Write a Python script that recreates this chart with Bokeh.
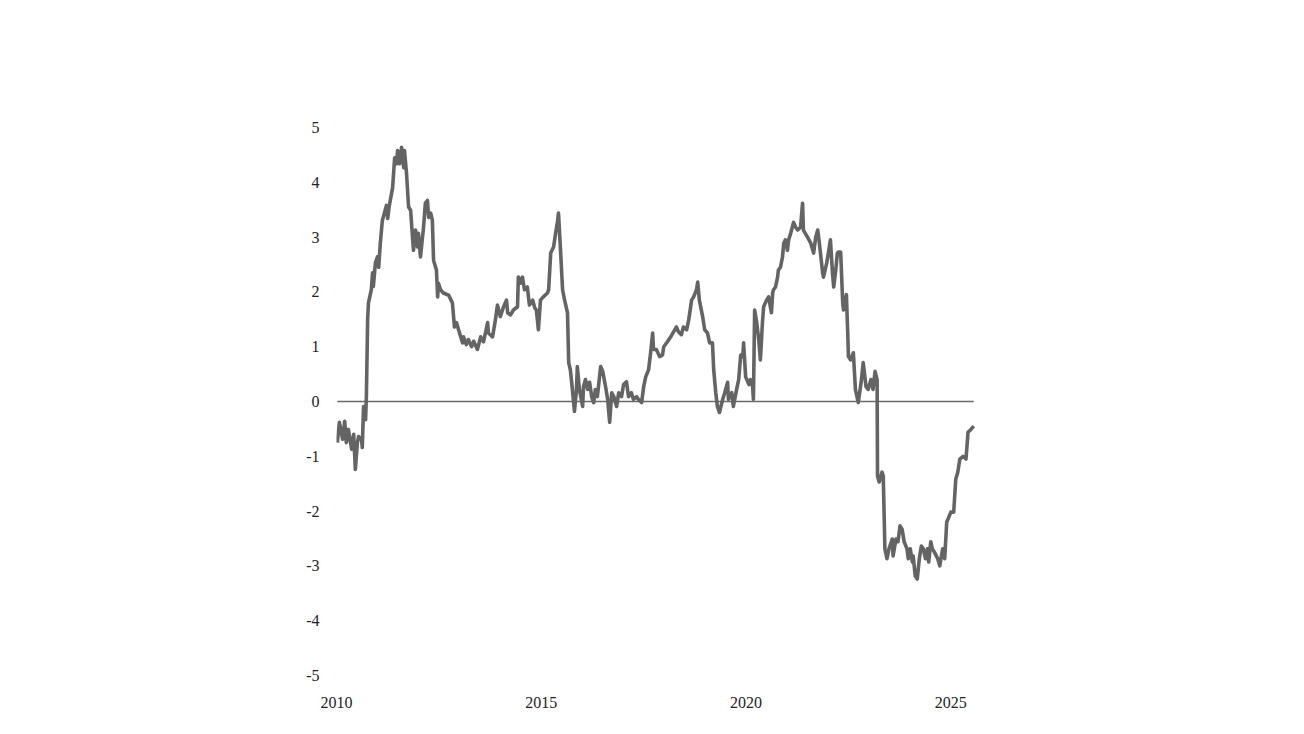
from bokeh.plotting import figure
from bokeh.models import Range1d, FixedTicker
from bokeh.embed import file_html
from bokeh.resources import INLINE

years = [2010.02, 2010.07, 2010.15, 2010.20, 2010.24, 2010.29, 2010.37, 2010.42, 2010.46, 2010.51,
         2010.54, 2010.61, 2010.63, 2010.66, 2010.71, 2010.73, 2010.76, 2010.78, 2010.85, 2010.88,
         2010.90, 2010.95, 2011.00, 2011.03, 2011.07, 2011.12, 2011.17, 2011.22, 2011.25, 2011.29,
         2011.37, 2011.42, 2011.47, 2011.49, 2011.54, 2011.59, 2011.64, 2011.66, 2011.71, 2011.76,
         2011.81, 2011.86, 2011.88, 2011.93, 2011.98, 2012.00, 2012.05, 2012.10, 2012.12, 2012.17,
         2012.22, 2012.25, 2012.30, 2012.34, 2012.37, 2012.44, 2012.47, 2012.49, 2012.54, 2012.61,
         2012.74, 2012.83, 2012.88, 2012.93, 2012.98, 2013.08, 2013.10, 2013.17, 2013.22, 2013.30,
         2013.35, 2013.44, 2013.52, 2013.59, 2013.69, 2013.71, 2013.81, 2013.88, 2013.93, 2014.00,
         2014.08, 2014.15, 2014.18, 2014.25, 2014.32, 2014.42, 2014.44, 2014.49, 2014.54, 2014.59,
         2014.66, 2014.71, 2014.79, 2014.84, 2014.88, 2014.93, 2014.98, 2015.05, 2015.15, 2015.18,
         2015.23, 2015.30, 2015.35, 2015.40, 2015.42, 2015.47, 2015.52, 2015.57, 2015.64, 2015.67,
         2015.71, 2015.76, 2015.81, 2015.86, 2015.88, 2015.93, 2016.01, 2016.03, 2016.08, 2016.13,
         2016.18, 2016.23, 2016.28, 2016.32, 2016.37, 2016.45, 2016.50, 2016.57, 2016.62, 2016.67,
         2016.72, 2016.77, 2016.84, 2016.89, 2016.96, 2017.01, 2017.08, 2017.13, 2017.20, 2017.25,
         2017.33, 2017.37, 2017.45, 2017.50, 2017.55, 2017.62, 2017.67, 2017.72, 2017.74, 2017.81,
         2017.89, 2017.96, 2017.99, 2018.08, 2018.16, 2018.23, 2018.30, 2018.35, 2018.42, 2018.47,
         2018.55, 2018.60, 2018.67, 2018.72, 2018.79, 2018.82, 2018.86, 2018.94, 2018.99, 2019.06,
         2019.11, 2019.18, 2019.21, 2019.26, 2019.30, 2019.35, 2019.43, 2019.48, 2019.55, 2019.57,
         2019.65, 2019.69, 2019.77, 2019.82, 2019.87, 2019.92, 2019.94, 2019.99, 2020.07, 2020.11,
         2020.16, 2020.18, 2020.21, 2020.26, 2020.31, 2020.35, 2020.40, 2020.43, 2020.50, 2020.55,
         2020.62, 2020.65, 2020.67, 2020.72, 2020.77, 2020.79, 2020.84, 2020.89, 2020.92, 2020.96,
         2021.01, 2021.04, 2021.09, 2021.16, 2021.21, 2021.26, 2021.33, 2021.38, 2021.40, 2021.50,
         2021.58, 2021.65, 2021.70, 2021.75, 2021.79, 2021.87, 2021.89, 2021.97, 2022.01, 2022.06,
         2022.11, 2022.14, 2022.19, 2022.23, 2022.26, 2022.31, 2022.36, 2022.38, 2022.45, 2022.48,
         2022.50, 2022.55, 2022.62, 2022.67, 2022.74, 2022.81, 2022.86, 2022.93, 2022.98, 2023.05,
         2023.10, 2023.15, 2023.20, 2023.21, 2023.25, 2023.32, 2023.35, 2023.39, 2023.44, 2023.49,
         2023.57, 2023.59, 2023.66, 2023.71, 2023.76, 2023.81, 2023.86, 2023.93, 2023.96, 2024.01,
         2024.06, 2024.08, 2024.13, 2024.18, 2024.23, 2024.28, 2024.33, 2024.38, 2024.43, 2024.46,
         2024.51, 2024.55, 2024.60, 2024.68, 2024.73, 2024.80, 2024.85, 2024.90, 2024.93, 2025.00,
         2025.07, 2025.12, 2025.17, 2025.22, 2025.30, 2025.37, 2025.42, 2025.49, 2025.56]

values = [-0.75, -0.38, -0.69, -0.36, -0.75, -0.51, -0.87, -0.60, -1.24, -0.75,
          -0.64, -0.69, -0.84, -0.09, -0.33, 0.10, 1.49, 1.80, 2.04, 2.35,
          2.10, 2.53, 2.64, 2.45, 2.89, 3.31, 3.44, 3.58, 3.34, 3.58,
          3.90, 4.45, 4.34, 4.58, 4.34, 4.64, 4.27, 4.58, 4.16, 3.55,
          3.49, 2.95, 2.76, 3.13, 2.82, 3.07, 2.64, 3.00, 3.13, 3.62,
          3.67, 3.36, 3.44, 3.31, 2.58, 2.40, 1.91, 2.16, 2.04, 1.98,
          1.94, 1.80, 1.36, 1.44, 1.31, 1.07, 1.18, 1.04, 1.13, 1.00,
          1.10, 0.95, 1.18, 1.09, 1.44, 1.25, 1.18, 1.49, 1.76, 1.55,
          1.73, 1.85, 1.62, 1.58, 1.67, 1.73, 2.27, 2.16, 2.27, 2.04,
          2.09, 1.76, 1.85, 1.71, 1.67, 1.31, 1.85, 1.91, 1.98, 2.04,
          2.71, 2.82, 3.07, 3.31, 3.44, 2.76, 2.04, 1.85, 1.62, 0.71,
          0.58, 0.22, -0.18, 0.22, 0.64, 0.22, -0.09, 0.27, 0.40, 0.22,
          0.35, 0.09, -0.02, 0.22, 0.09, 0.64, 0.55, 0.27, 0.04, -0.38,
          0.16, 0.09, -0.09, 0.16, 0.09, 0.31, 0.36, 0.09, 0.16, 0.04,
          0.09, 0.04, -0.02, 0.27, 0.45, 0.58, 0.89, 1.25, 0.95, 0.95,
          0.82, 0.85, 1.00, 1.09, 1.18, 1.27, 1.36, 1.27, 1.22, 1.36,
          1.31, 1.49, 1.85, 1.91, 2.04, 2.18, 1.85, 1.55, 1.31, 1.25,
          1.07, 1.07, 0.58, 0.16, -0.09, -0.20, 0.04, 0.16, 0.35, 0.04,
          0.16, -0.09, 0.22, 0.40, 0.85, 0.82, 1.07, 0.45, 0.31, 0.40,
          0.27, 0.04, 1.67, 1.44, 1.13, 0.76, 1.44, 1.73, 1.85, 1.91,
          1.62, 1.98, 2.04, 2.09, 2.27, 2.40, 2.45, 2.64, 2.89, 2.95,
          2.76, 2.95, 3.07, 3.27, 3.18, 3.13, 3.18, 3.62, 3.13, 3.00,
          2.89, 2.71, 3.00, 3.13, 2.89, 2.35, 2.27, 2.53, 2.71, 2.95,
          2.35, 2.09, 2.40, 2.71, 2.73, 2.73, 1.80, 1.67, 1.95, 1.31,
          0.82, 0.76, 0.89, 0.22, -0.02, 0.35, 0.71, 0.27, 0.22, 0.40,
          0.22, 0.55, 0.40, -1.36, -1.47, -1.29, -1.36, -2.69, -2.87, -2.69,
          -2.51, -2.82, -2.51, -2.56, -2.27, -2.33, -2.56, -2.69, -2.87, -2.69,
          -2.93, -2.82, -3.18, -3.24, -2.87, -2.64, -2.69, -2.87, -2.69, -2.93,
          -2.56, -2.69, -2.75, -2.87, -3.00, -2.69, -2.87, -2.20, -2.15, -2.02,
          -2.02, -1.42, -1.29, -1.05, -1.00, -1.05, -0.56, -0.51, -0.45]

x_ticks = [2010, 2015, 2020, 2025]
x_tick_labels = ["2010", "2015", "2020", "2025"]
y_ticks = [-5, -4, -3, -2, -1, 0, 1, 2, 3, 4, 5]
y_tick_labels = ["-5", "-4", "-3", "-2", "-1", "0", "1", "2", "3", "4", "5"]
baseline = 0

FONT = "Liberation Serif"

p = figure(width=1288, height=718, output_backend="svg", toolbar_location=None,
           x_range=Range1d(2010.0, 2025.7), y_range=Range1d(-5.02, 5.02),
           min_border_left=336, min_border_right=309, min_border_top=126, min_border_bottom=42)
p.outline_line_color = None
p.background_fill_color = "white"
p.border_fill_color = "white"
p.xgrid.visible = False
p.ygrid.visible = False

p.line([min(years), max(years)], [baseline, baseline], line_color="#6a6a6a", line_width=1.5)
p.line(years, values, line_color="#646464", line_width=3.6, line_join="round")

for ax in (p.xaxis[0], p.yaxis[0]):
    ax.axis_line_color = None
    ax.major_tick_line_color = None
    ax.minor_tick_line_color = None
    ax.major_label_text_font = FONT
    ax.major_label_text_font_size = "16px"
    ax.major_label_text_color = "#222222"

p.xaxis[0].ticker = FixedTicker(ticks=x_ticks)
p.xaxis[0].major_label_overrides = dict(zip(x_ticks, x_tick_labels))
p.xaxis[0].major_label_standoff = 14
p.yaxis[0].ticker = FixedTicker(ticks=y_ticks)
p.yaxis[0].major_label_overrides = dict(zip(y_ticks, y_tick_labels))
p.yaxis[0].major_label_standoff = 11

open("out.html", "w").write(file_html(p, INLINE))
